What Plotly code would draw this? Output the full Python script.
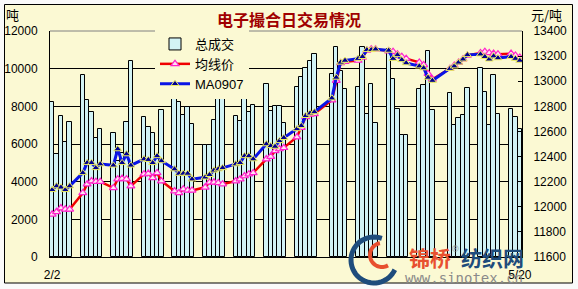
import math
import plotly.graph_objects as go

# ---------------- data ----------------
dates = [
    "2009-02-02", "2009-02-03", "2009-02-04", "2009-02-05", "2009-02-06",
    "2009-02-09", "2009-02-10", "2009-02-11", "2009-02-12", "2009-02-13",
    "2009-02-16", "2009-02-17", "2009-02-18", "2009-02-19", "2009-02-20",
    "2009-02-23", "2009-02-24", "2009-02-25", "2009-02-26", "2009-02-27",
    "2009-03-02", "2009-03-03", "2009-03-04", "2009-03-05", "2009-03-06",
    "2009-03-09", "2009-03-10", "2009-03-11", "2009-03-12", "2009-03-13",
    "2009-03-16", "2009-03-17", "2009-03-18", "2009-03-19", "2009-03-20",
    "2009-03-23", "2009-03-24", "2009-03-25", "2009-03-26", "2009-03-27",
    "2009-03-30", "2009-03-31", "2009-04-01", "2009-04-02", "2009-04-03",
    "2009-04-07", "2009-04-08", "2009-04-09", "2009-04-10",
    "2009-04-13", "2009-04-14", "2009-04-15", "2009-04-16", "2009-04-17",
    "2009-04-20", "2009-04-21", "2009-04-22", "2009-04-23", "2009-04-24",
    "2009-04-27", "2009-04-28", "2009-04-29", "2009-04-30",
    "2009-05-04", "2009-05-05", "2009-05-06", "2009-05-07", "2009-05-08",
    "2009-05-11", "2009-05-12", "2009-05-13", "2009-05-14", "2009-05-15",
    "2009-05-18", "2009-05-19", "2009-05-20",
]

volume = [
    8250, 5450, 7490, 6080, 7170,
    9650, 8350, 7700, 6300, 6820,
    6600, 5100, 5500, 7170, 10400,
    7430, 6900, 6600, 5200, 7800,
    8550, 8250, 7540, 7980, 7050,
    5950, 5950, 7260, 9020, 8400,
    7490, 7220, 8760, 7700, 8050,
    9200, 7750, 8020, 8000, 7100,
    9050, 9550, 10040, 10400, 10800,
    9730, 11140, 9900, 8900,
    9020, 11140, 7610, 9200, 7140,
    11070, 9460, 7880, 6470, 6480,
    8900, 9110, 10920, 7800,
    8720, 7010, 7370, 7540, 8990,
    10040, 8770, 7000, 9655, 7610,
    7880, 7440, 6800,
]

avg_price = [
    11940, 11960, 11990, 11980, 11980,
    12110, 12180, 12205, 12200, 12200,
    12150, 12220, 12225, 12220, 12165,
    12260, 12265, 12230, 12270, 12205,
    12125, 12110, 12140, 12130, 12130,
    12155, 12195, 12195, 12190, 12180,
    12205, 12220, 12245, 12260, 12270,
    12380, 12400, 12445, 12460, 12470,
    12555, 12630, 12715, 12735, 12740,
    12850, 13005, 13145, 13155,
    13165, 13190, 13245, 13255, 13255,
    13240, 13235, 13215, 13195, 13180,
    13150, 13130, 13060, 13015,
    13100, 13125, 13150, 13175, 13205,
    13225, 13235, 13225, 13220, 13215,
    13220, 13205, 13190,
]

ma0907 = [
    12135, 12165, 12155, 12135, 12165,
    12270, 12350, 12350, 12310, 12340,
    12330, 12460, 12350, 12420, 12330,
    12380, 12375, 12350, 12405, 12365,
    12300, 12265, 12265, 12265, 12220,
    12235, 12255, 12290, 12300, 12310,
    12340, 12350, 12405, 12405, 12380,
    12500, 12485, 12480, 12525, 12550,
    12620, 12645, 12725, 12745, 12755,
    12865, 13030, 13150, 13165,
    13180, 13195, 13250, 13250, 13255,
    13245, 13180, 13210, 13170, 13145,
    13120, 13105, 13030, 13005,
    13100, 13120, 13150, 13175, 13210,
    13215, 13195, 13175, 13200, 13185,
    13195, 13180, 13165,
]

series_names = ["总成交", "均线价", "MA0907"]
x_tick_vals = ["2009-02-02", "2009-05-20"]
x_tick_text = ["2/2", "5/20"]
title_text = "电子撮合日交易情况"
left_unit = "吨"
right_unit = "元/吨"

# ---------------- style ----------------
W, H = 578, 289
L, R, T, B = 50, 56, 31, 32
PW, PH = W - L - R, H - T - B
BG = "#FBF9D3"
NUM_FONT = "Liberation Sans, Arial, sans-serif"
CJK_FONT = "Noto Sans CJK SC, sans-serif"


def px(x):
    return (x - L) / PW


def py(y):
    return (H - B - y) / PH


fig = go.Figure()
fig.add_trace(go.Bar(
    x=dates, y=volume, name=series_names[0],
    marker=dict(color="#D2F3F5", line=dict(color="#000000", width=1)),
    yaxis="y",
))
fig.add_trace(go.Scatter(
    x=dates, y=avg_price, name=series_names[1], mode="lines+markers",
    line=dict(color="#F00000", width=2.5),
    marker=dict(symbol="triangle-up", size=7, color="#FFE4F0",
                line=dict(color="#FF22CC", width=1.2)),
    yaxis="y2",
))
fig.add_trace(go.Scatter(
    x=dates, y=ma0907, name=series_names[2], mode="lines+markers",
    line=dict(color="#0A14E6", width=3),
    marker=dict(symbol="triangle-up", size=7, color="#000090",
                line=dict(color="#F0F060", width=1)),
    yaxis="y2",
))

shapes = []
# outer frame
shapes.append(dict(type="rect", xref="paper", yref="paper",
                   x0=px(4.5), x1=px(572.5), y0=py(283), y1=py(4.5),
                   line=dict(color="#000000", width=1), fillcolor=BG, layer="below"))
# top border of plot area
shapes.append(dict(type="line", xref="paper", yref="paper",
                   x0=0, x1=1, y0=1, y1=1,
                   line=dict(color="#808080", width=1), layer="above"))


def arc_path(cx, cy, r, a0, a1, n=40):
    pts = []
    for k in range(n + 1):
        a = math.radians(a0 + (a1 - a0) * k / n)
        pts.append((px(cx + r * math.cos(a)), py(cy - r * math.sin(a))))
    return "M " + " L ".join(f"{x:.4f},{y:.4f}" for x, y in pts)


# watermark logo swoosh
shapes.append(dict(type="path", xref="paper", yref="paper",
                   path=arc_path(374, 260, 23, 70, 335),
                   line=dict(color="#1E4C7C", width=5), layer="above"))
shapes.append(dict(type="path", xref="paper", yref="paper",
                   path=arc_path(382, 255, 12, 100, 300),
                   line=dict(color="#E8502F", width=4), layer="above"))


def note(text, x, y, size, color, family):
    return dict(text=text, x=px(x), y=py(y), xref="paper", yref="paper",
                xanchor="center", yanchor="middle", showarrow=False,
                font=dict(family=family, size=size, color=color))


annotations = [
    note(left_unit, 12, 14, 13, "#000000", CJK_FONT),
    note(right_unit, 546, 15, 13, "#000000", CJK_FONT),
    note("<b>锦桥</b>", 430, 257, 21, "#E8502F", CJK_FONT),
    note("®", 455, 249, 9, "#808080", NUM_FONT),
    note("<b>纺织网</b>", 492, 257, 21, "#1E4C7C", CJK_FONT),
    note("www.sinotex.cn", 464, 278, 14, "#8A8A8A", "DejaVu Sans Mono"),
]

fig.update_layout(
    width=W, height=H, autosize=False,
    margin=dict(l=L, r=R, t=T, b=B, pad=0, autoexpand=False),
    paper_bgcolor="#FAFAFA", plot_bgcolor=BG,
    bargap=0,
    showlegend=True,
    legend=dict(x=px(155), y=py(29), xanchor="left", yanchor="top",
                bgcolor=BG, borderwidth=0,
                font=dict(family="Liberation Sans, Noto Sans CJK SC", size=13, color="#000000"),
                traceorder="normal", itemwidth=30),
    title=dict(text=f"<b>{title_text}</b>", x=0.5, xref="container", xanchor="center",
               y=1 - 20 / H, yref="container", yanchor="middle",
               font=dict(family=CJK_FONT, size=16, color="#A00000")),
    xaxis=dict(type="date", range=["2009-02-01 12:00", "2009-05-20 12:00"],
               tickvals=x_tick_vals, ticktext=x_tick_text, automargin=False,
               showgrid=False, showline=True, linecolor="#000000", linewidth=1,
               ticks="outside", ticklen=7, tickcolor="rgba(0,0,0,0)",
               tickfont=dict(family=NUM_FONT, size=12, color="#000000"),
               zeroline=False),
    yaxis=dict(range=[0, 12000], dtick=2000, tick0=0, tickformat="d", automargin=False,
               showgrid=True, gridcolor="#000000", gridwidth=1,
               showline=True, linecolor="#000000", linewidth=1,
               ticks="outside", ticklen=9, tickcolor="rgba(0,0,0,0)",
               tickfont=dict(family=NUM_FONT, size=12, color="#000000"),
               zeroline=False),
    yaxis2=dict(range=[11600, 13400], dtick=200, tick0=11600, tickformat="d",
                overlaying="y", side="right", showgrid=False, automargin=False,
                showline=True, linecolor="#000000", linewidth=1,
                ticks="inside", ticklen=4, tickcolor="#000000",
                ticklabelstandoff=8,
                tickfont=dict(family=NUM_FONT, size=12, color="#000000"),
                zeroline=False),
    shapes=shapes,
    annotations=annotations,
)

fig.write_html("out.html")
